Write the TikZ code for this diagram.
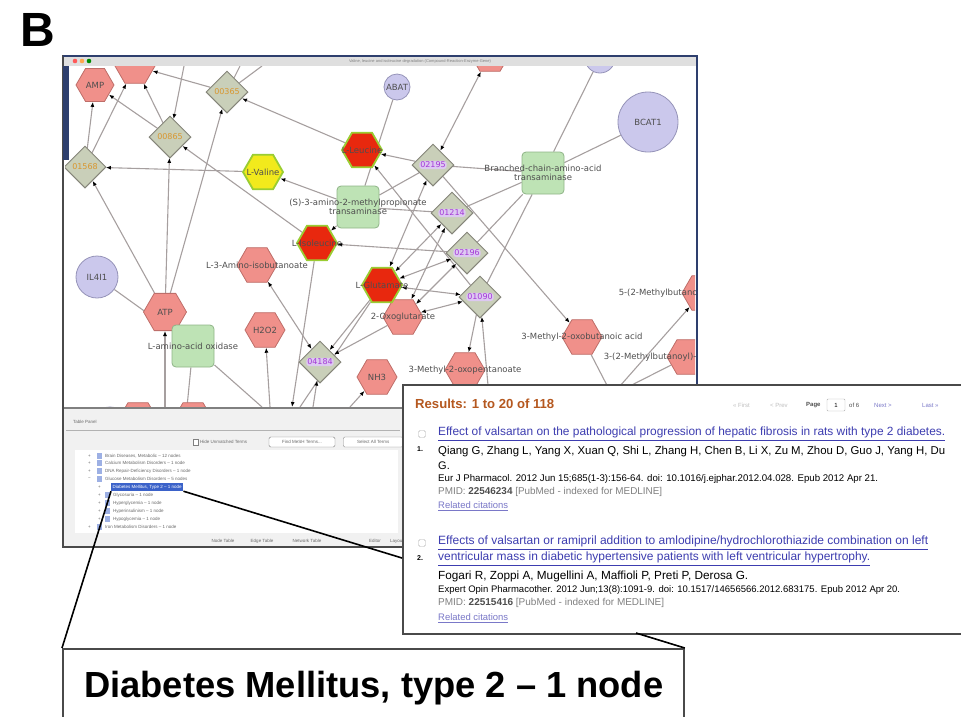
\documentclass[tikz,border=0pt]{standalone}
\usepackage{fontspec}
\usepackage{graphicx}
\setmainfont{Liberation Sans}
\newfontfamily\netfont{DejaVu Sans}
\usetikzlibrary{shapes.geometric,arrows.meta,backgrounds}
\definecolor{hexpink}{HTML}{F0908A}
\definecolor{hexline}{HTML}{BE6E69}
\definecolor{hotred}{HTML}{E8280E}
\definecolor{halo}{HTML}{9ACD32}
\definecolor{valyel}{HTML}{F2EA1C}
\definecolor{reactfill}{HTML}{C9CFB9}
\definecolor{reactline}{HTML}{85857A}
\definecolor{enzfill}{HTML}{BEE3B5}
\definecolor{enzline}{HTML}{8FB487}
\definecolor{genefill}{HTML}{CBC8EC}
\definecolor{geneline}{HTML}{9593B8}
\definecolor{edgegrey}{HTML}{A69F9F}
\definecolor{labgrey}{HTML}{4E4E4E}
\definecolor{orangelab}{HTML}{D9962E}
\definecolor{purplelab}{HTML}{A43AD6}
\definecolor{purplebg}{HTML}{DDC8F2}
\definecolor{navy}{HTML}{2E3F6E}
\definecolor{framegrey}{HTML}{4A4A4A}
\definecolor{panelbg}{HTML}{F1F1F1}
\definecolor{selblue}{HTML}{3B62C9}
\definecolor{linkblue}{HTML}{3D3DB0}
\definecolor{resorange}{HTML}{B5581F}
\definecolor{relblue}{HTML}{7A78C8}
\definecolor{uigrey}{HTML}{6A6A6A}
\begin{document}
\begin{tikzpicture}[x=1pt,y=-1pt,
    hexa/.style={regular polygon,regular polygon sides=6,minimum size=40pt,inner sep=0pt,fill=hexpink,draw=hexline,line width=0.8pt},
    hot/.style={hexa,fill=hotred,draw=halo,line width=1.8pt},
    warm/.style={hexa,fill=valyel,draw=halo,line width=1.8pt},
    react/.style={diamond,minimum width=42pt,minimum height=42pt,inner sep=0pt,fill=reactfill,draw=reactline,line width=1pt},
    enzyme/.style={rectangle,rounded corners=4pt,minimum size=42pt,inner sep=0pt,fill=enzfill,draw=enzline,line width=0.8pt},
    gene/.style={circle,inner sep=0pt,fill=genefill,draw=geneline,line width=0.8pt},
    tag/.style={font=\netfont\fontsize{8.5}{9.5}\selectfont,text=labgrey,inner sep=0pt},
    olab/.style={font=\netfont\fontsize{8}{8}\selectfont,text=orangelab,inner sep=1pt},
    plab/.style={font=\netfont\fontsize{8}{8}\selectfont,text=purplelab,fill=purplebg,rounded corners=3pt,inner sep=1pt},
    edge/.style={draw=edgegrey,line width=1.1pt},
    arr/.style={edge,-{Latex[length=5pt,width=4pt,color=black]}},
    both/.style={edge,{Latex[length=5pt,width=4pt,color=black]}-{Latex[length=5pt,width=4pt,color=black]}},
    small/.style={font=\fontsize{4.5}{5}\selectfont,text=uigrey,inner sep=0pt},
    pub/.style={anchor=west,inner sep=0pt}]
\useasboundingbox (0,0) rectangle (961,716);

\node[font=\fontsize{48}{48}\selectfont\bfseries] (panel) at (38,30) {B};

\begin{scope}
\clip (65,66) rectangle (695,407);
\node[gene,minimum size=30pt] (ctop) at (600,58) {};
\node[gene,minimum size=26pt,label={[tag]center:ABAT}] (abat) at (397,87) {};
\node[gene,minimum size=60pt,label={[tag]center:BCAT1}] (bcat) at (648,122) {};
\node[gene,minimum size=42pt,label={[tag]center:IL4I1}] (il4) at (97,277) {};
\node[gene,minimum width=26pt,minimum height=14pt,ellipse] (gbt) at (110,414) {};

\node[hexa,minimum size=38pt,label={[tag]center:AMP}] (amp) at (95,85) {};
\node[hexa] (hxa) at (135,66) {};
\node[hexa] (hxb) at (490,54) {};
\node[hexa,minimum size=43pt,label={[tag]center:ATP}] (atp) at (165,312) {};
\node[hexa,label={[tag]center:L-3-Amino-isobutanoate}] (aib) at (257,265) {};
\node[hexa,label={[tag]center:H2O2}] (hoo) at (265,330) {};
\node[hexa,label={[tag]center:2-Oxoglutarate}] (oxg) at (403,317) {};
\node[hexa,label={[tag]center:NH3}] (nh3) at (377,377) {};
\node[hexa,label={[tag]center:3-Methyl-2-oxopentanoate}] (mop) at (465,370) {};
\node[hexa,label={[tag]center:3-Methyl-2-oxobutanoic acid}] (mob) at (582,337) {};
\node[hexa,label={[tag]center:5-(2-Methylbutanoyl)-dihydrolipoamide}] (mbt) at (702,293) {};
\node[hexa,label={[tag]center:3-(2-Methylbutanoyl)-dihydrolipoamide}] (mbh) at (687,357) {};
\node[hexa] (hbl) at (138,420) {};
\node[hexa] (hbr) at (193,420) {};
\node[warm,label={[tag]center:L-Valine}] (val) at (263,172) {};
\node[hot,label={[tag]center:L-Leucine}] (leu) at (362,150) {};
\node[hot,label={[tag]center:L-Isoleucine}] (ile) at (317,243) {};
\node[hot,label={[tag]center:L-Glutamate}] (glu) at (382,285) {};

\node[react,label={[olab]center:00365}] (d365) at (227,92) {};
\node[react,label={[olab]center:00865}] (d865) at (170,137) {};
\node[react,label={[olab]center:01568}] (d568) at (85,167) {};
\node[react,label={[plab]center:02195}] (d195) at (433,165) {};
\node[react,label={[plab]center:01214}] (d214) at (452,213) {};
\node[react,label={[plab]center:02196}] (d196) at (467,253) {};
\node[react,label={[plab]center:01090}] (d090) at (480,297) {};
\node[react,label={[plab]center:04184}] (d184) at (320,362) {};

\node[enzyme,label={[tag,align=center]center:{(S)-3-amino-2-methylpropionate\\transaminase}}] (smt) at (358,207) {};
\node[enzyme,label={[tag,align=center]center:{Branched-chain-amino-acid\\transaminase}}] (bct) at (543,173) {};
\node[enzyme,label={[tag]center:L-amino-acid oxidase}] (lao) at (193,346) {};
\end{scope}

\begin{scope}[on background layer]
\clip (65,66) rectangle (695,407);
\coordinate (ta) at (240,66);
\coordinate (tb) at (262,66);
\coordinate (tc) at (184,66);
\coordinate (ba) at (165,407);
\coordinate (bb) at (187,407);
\coordinate (bc) at (262,407);
\coordinate (bd) at (270,407);
\coordinate (be) at (292,407);
\coordinate (bf) at (313,407);
\coordinate (bg) at (300,407);
\coordinate (bh) at (350,407);
\coordinate (bi) at (490,407);
\coordinate (rx) at (612,395);

\draw[edge] (abat) -- (smt);
\draw[edge] (bcat) -- (bct);
\draw[edge] (ctop) -- (bct);
\draw[edge] (il4) -- (lao);
\draw[edge] (bct) -- (d195);
\draw[edge] (bct) -- (d214);
\draw[edge] (bct) -- (d196);
\draw[edge] (bct) -- (d090);
\draw[edge] (smt) -- (d195);
\draw[edge] (smt) -- (d214);
\draw[edge] (lao) -- (bb);
\draw[edge] (lao) -- (bc);
\draw[edge] (glu) -- (bg);
\draw[edge] (d365) -- (ta);
\draw[edge] (d365) -- (tb);
\draw[edge] (mob) -- (rx);
\draw[edge] (mbh) -- (rx);

\draw[arr] (d568) -- (amp);
\draw[arr] (atp) -- (d568);
\draw[arr] (val) -- (d568);
\draw[arr] (d865) -- (amp);
\draw[arr] (d865) -- (hxa);
\draw[arr] (d568) -- (hxa);
\draw[arr] (d365) -- (hxa);
\draw[arr] (leu) -- (d365);
\draw[arr] (atp) -- (d365);
\draw[arr] (atp) -- (d865);
\draw[arr] (ile) -- (d865);
\draw[arr] (tc) -- (d865);
\draw[arr] (smt) -- (val);
\draw[arr] (smt) -- (ile);
\draw[arr] (d196) -- (ile);
\draw[arr] (d195) -- (leu);
\draw[both] (d195) -- (hxb);
\draw[arr] (d195) -- (mob);
\draw[arr] (d090) -- (leu);
\draw[both] (d195) -- (glu);
\draw[both] (d214) -- (glu);
\draw[both] (d196) -- (glu);
\draw[both] (d090) -- (glu);
\draw[both] (d214) -- (oxg);
\draw[both] (d196) -- (oxg);
\draw[both] (d090) -- (oxg);
\draw[arr] (glu) -- (d184);
\draw[arr] (oxg) -- (d184);
\draw[both] (d184) -- (aib);
\draw[arr] (d090) -- (mop);
\draw[arr] (bd) -- (hoo);
\draw[arr] (ba) -- (atp);
\draw[arr] (ile) -- (be);
\draw[arr] (bf) -- (d184);
\draw[arr] (bh) -- (nh3);
\draw[arr] (bi) -- (d090);
\draw[arr] (rx) -- (mbt);
\end{scope}

\fill[gray!25] (63,56) rectangle (697,66);
\fill[red!65] (75,61) circle (2.3);
\fill[orange!70] (82,61) circle (2.3);
\fill[green!55!black] (89,61) circle (2.3);
\node[font=\fontsize{4}{4}\selectfont,text=gray] (wtitle) at (420,61) {Valine, leucine and isoleucine degradation (Compound-Reaction-Enzyme-Gene)};
\fill[panelbg] (64,408) rectangle (696,546);
\draw[gray, line width=2.5pt] (64,408) -- (696,408);
\draw[framegrey, line width=2.2pt] (63,56) rectangle (697,547);
\draw[navy, line width=2.6pt] (63,56) -- (697,56) -- (697,384);
\fill[navy] (63,66) rectangle (69,160);

\node[small,anchor=west] (tpanel) at (73,422) {Table Panel};
\draw[gray!60] (66,430) -- (400,430);
\draw[gray, fill=white] (193,439) rectangle (198,445);
\node[small,anchor=west] (hide) at (200,442) {Hide Unmatched Terms};
\node[small,draw=gray,fill=white,rounded corners=1.5pt,minimum width=66pt,minimum height=10pt] (find) at (302,442) {Find MeSH Terms...};
\node[small,draw=gray,fill=white,rounded corners=1.5pt,minimum width=60pt,minimum height=10pt,anchor=west] (selall) at (343,442) {Select All Terms};
\fill[white] (75,450) rectangle (398,533);

\node[small,anchor=west] (e1) at (88,456) {+};
\node[small,anchor=west] (e2) at (88,463) {+};
\node[small,anchor=west] (e3) at (88,471) {+};
\node[small,anchor=west] (e4) at (88,479) {−};
\node[small,anchor=west] (e5) at (88,527) {+};
\fill[selblue!50] (97,453) rectangle (102,459);
\fill[selblue!50] (97,460) rectangle (102,466);
\fill[selblue!50] (97,468) rectangle (102,474);
\fill[selblue!50] (97,476) rectangle (102,482);
\fill[selblue!50] (97,524) rectangle (102,530);
\node[small,anchor=west] (i1) at (105,456) {Brain Diseases, Metabolic -- 12 nodes};
\node[small,anchor=west] (i2) at (105,463) {Calcium Metabolism Disorders -- 1 node};
\node[small,anchor=west] (i3) at (105,471) {DNA Repair-Deficiency Disorders -- 1 node};
\node[small,anchor=west] (i4) at (105,479) {Glucose Metabolism Disorders -- 5 nodes};
\node[small,anchor=west] (i5) at (105,527) {Iron Metabolism Disorders -- 1 node};
\node[small,anchor=west] (s1) at (98,487) {+};
\node[small,anchor=west] (s2) at (98,495) {+};
\node[small,anchor=west] (s3) at (98,503) {+};
\node[small,anchor=west] (s4) at (98,511) {+};
\node[small,anchor=west] (s5) at (98,519) {+};
\fill[selblue!50] (105,492) rectangle (110,498);
\fill[selblue!50] (105,500) rectangle (110,506);
\fill[selblue!50] (105,508) rectangle (110,514);
\fill[selblue!50] (105,516) rectangle (110,522);
\node[small,anchor=west,fill=selblue,text=white,minimum height=8pt,inner xsep=1.5pt] (sel) at (111,487) {Diabetes Mellitus, Type 2 -- 1 node};
\node[small,anchor=west] (g2) at (113,495) {Glycosuria -- 1 node};
\node[small,anchor=west] (g3) at (113,503) {Hyperglycemia -- 1 node};
\node[small,anchor=west] (g4) at (113,511) {Hyperinsulinism -- 1 node};
\node[small,anchor=west] (g5) at (113,519) {Hypoglycemia -- 1 node};

\node[small] (tab1) at (223,541) {Node Table};
\node[small] (tab2) at (262,541) {Edge Table};
\node[small] (tab3) at (307,541) {Network Table};
\node[small] (tab4) at (375,541) {Editor};
\node[small,anchor=west] (tab5) at (390,541) {Layout};

\node[draw=framegrey,line width=1.8pt,fill=white,minimum width=575pt,minimum height=249pt,anchor=north west] (popup) at (402,384) {};
\node[pub,text=resorange] (res) at (415,404) {\resizebox{139pt}{!}{\bfseries Results: 1 to 20 of 118}};
\node[pub,text=gray!50,font=\fontsize{6}{6}\selectfont] (first) at (733,405) {<< First};
\node[pub,text=gray!50,font=\fontsize{6}{6}\selectfont] (prev) at (770,405) {< Prev};
\node[pub,font=\fontsize{6}{6}\selectfont\bfseries,text=labgrey] (page) at (806,405) {Page};
\node[draw=gray!60,rounded corners=1pt,minimum width=18pt,minimum height=12pt,font=\fontsize{6}{6}\selectfont,inner sep=0pt] (pbox) at (836,405) {1};
\node[pub,font=\fontsize{6}{6}\selectfont,text=labgrey] (of) at (849,405) {of 6};
\node[pub,font=\fontsize{6}{6}\selectfont,text=relblue] (next) at (874,405) {Next >};
\node[pub,font=\fontsize{6}{6}\selectfont,text=relblue] (last) at (922,405) {Last >>};

\node[draw=gray!60,rounded corners=1.5pt,minimum size=7pt,inner sep=0pt] (cb1) at (422,434) {};
\node[pub,text=linkblue] (t1) at (438,434) {\resizebox{507pt}{!}{\underline{Effect of valsartan on the pathological progression of hepatic fibrosis in rats with type 2 diabetes.}}};
\node[pub,font=\fontsize{7}{7}\selectfont\bfseries] (n1) at (417,449) {1.};
\node[pub] (a1) at (438,452) {\resizebox{507pt}{!}{Qiang G, Zhang L, Yang X, Xuan Q, Shi L, Zhang H, Chen B, Li X, Zu M, Zhou D, Guo J, Yang H, Du}};
\node[pub,font=\fontsize{11}{11}\selectfont] (a1b) at (438,466) {G.};
\node[pub] (j1) at (438,479) {\resizebox{440pt}{!}{Eur J Pharmacol. 2012 Jun 15;685(1-3):156-64. doi: 10.1016/j.ejphar.2012.04.028. Epub 2012 Apr 21.}};
\node[pub,text=gray] (p1) at (438,492) {\resizebox{224pt}{!}{PMID: \textcolor{labgrey}{\bfseries 22546234} [PubMed - indexed for MEDLINE]}};
\node[pub,text=relblue] (r1) at (438,506) {\resizebox{70pt}{!}{\underline{Related citations}}};

\node[draw=gray!60,rounded corners=1.5pt,minimum size=7pt,inner sep=0pt] (cb2) at (422,543) {};
\node[pub,text=linkblue] (t2) at (438,543) {\resizebox{490pt}{!}{\underline{Effects of valsartan or ramipril addition to amlodipine/hydrochlorothiazide combination on left}}};
\node[pub,text=linkblue] (t2b) at (438,559) {\resizebox{432pt}{!}{\underline{ventricular mass in diabetic hypertensive patients with left ventricular hypertrophy.}}};
\node[pub,font=\fontsize{7}{7}\selectfont\bfseries] (n2) at (417,558) {2.};
\node[pub] (a2) at (438,576) {\resizebox{310pt}{!}{Fogari R, Zoppi A, Mugellini A, Maffioli P, Preti P, Derosa G.}};
\node[pub] (j2) at (438,590) {\resizebox{462pt}{!}{Expert Opin Pharmacother. 2012 Jun;13(8):1091-9. doi: 10.1517/14656566.2012.683175. Epub 2012 Apr 20.}};
\node[pub,text=gray] (p2) at (438,603) {\resizebox{226pt}{!}{PMID: \textcolor{labgrey}{\bfseries 22515416} [PubMed - indexed for MEDLINE]}};
\node[pub,text=relblue] (r2) at (438,618) {\resizebox{70pt}{!}{\underline{Related citations}}};

\node[draw=framegrey,line width=1.8pt,fill=white,minimum width=621pt,minimum height=100pt,anchor=north west] (callout) at (62,648) {};
\node[anchor=base west,inner sep=0pt] (ctext) at (84,697) {\resizebox{579pt}{!}{\bfseries Diabetes Mellitus, type 2 – 1 node}};

\coordinate (pin) at (402,558);
\coordinate (pout) at (636,633);
\draw[black, line width=1.6pt] (sel.south west) -- (callout.north west);
\draw[black, line width=1.6pt] (sel.south east) -- (pin);
\draw[black, line width=1.6pt] (pout) -- (callout.north east);
\end{tikzpicture}
\end{document}
